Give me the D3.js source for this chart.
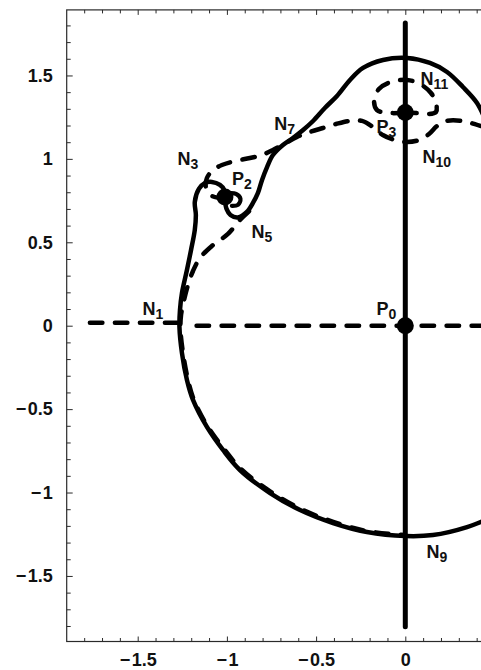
<!DOCTYPE html>
<html>
<head>
<meta charset="utf-8">
<script src="https://cdn.jsdelivr.net/npm/d3@7"></script>
<style>
  html, body { margin: 0; padding: 0; background: #fff; }
  svg { display: block; }
  text { font-family: "Liberation Sans", Arial, Helvetica, sans-serif; font-weight: bold; fill: #111; }
</style>
</head>
<body>
<svg id="chart" width="481" height="670"></svg>
<script>
// ---------------- data ----------------
const xDomain = [-1.898, 1.898];
const yDomain = [-1.893, 1.893];
const majorTicksY = [-1.5, -1, -0.5, 0, 0.5, 1, 1.5];
const majorTicksX = [-1.5, -1, -0.5, 0, 0.5, 1, 1.5];
const labelledTicksX = [-1.5, -1, -0.5, 0];

// solid closed-ish orbit (x, y)
const solidCurve = [
  [0.458,1.210],[0.402,1.335],[0.323,1.431],[0.234,1.521],[0.138,1.575],[0.010,1.605],
  [-0.125,1.593],[-0.237,1.545],[-0.310,1.473],[-0.383,1.377],[-0.451,1.305],[-0.517,1.227],
  [-0.573,1.173],[-0.630,1.125],[-0.686,1.083],[-0.742,1.023],[-0.775,0.951],[-0.803,0.874],
  [-0.826,0.796],[-0.854,0.736],[-0.888,0.682],[-0.938,0.649],[-0.980,0.664],[-1.002,0.700],
  [-1.011,0.754],[-1.011,0.808],[-1.039,0.844],[-1.084,0.862],[-1.123,0.856],[-1.157,0.820],
  [-1.180,0.742],[-1.174,0.664],[-1.180,0.574],[-1.201,0.454],[-1.224,0.334],[-1.252,0.196],
  [-1.263,0.094],[-1.266,-0.008],[-1.252,-0.164],[-1.224,-0.325],[-1.190,-0.445],[-1.112,-0.607],
  [-1.022,-0.745],[-0.927,-0.865],[-0.758,-1.003],[-0.590,-1.105],[-0.405,-1.183],[-0.215,-1.237],
  [0.000,-1.261],[0.155,-1.255],[0.346,-1.207],[0.475,-1.153]
];
// small solid curl right of P2
const solidCurl = [[-0.988,0.794],[-0.949,0.790],[-0.924,0.760],[-0.938,0.724],[-0.972,0.718]];
// vertical solid line x = 0
const verticalLine = [[0,-1.805],[0,1.815]];

// dashed curves
const dashAxisLeft = [[-1.768,0.018],[-1.275,0.018]];
const dashAxisRight = [[-1.170,0],[0.500,0]];
const dashN5Branch = [
  [-0.876,0.686],[-0.927,0.634],[-0.994,0.550],[-1.084,0.478],[-1.151,0.406],[-1.190,0.328],
  [-1.218,0.244],[-1.240,0.154],[-1.257,0.064],[-1.260,-0.026],[-1.246,-0.164],[-1.218,-0.325],
  [-1.185,-0.445],[-1.106,-0.607],[-1.016,-0.739],[-0.921,-0.859],[-0.752,-0.997],[-0.585,-1.099],
  [-0.400,-1.177],[-0.215,-1.231],[0.000,-1.255]
];
const dashUpper = [
  [-1.011,0.764],[-1.084,0.778],[-1.117,0.826],[-1.112,0.885],[-1.078,0.933],[-1.028,0.963],
  [-0.955,0.987],[-0.871,1.005],[-0.804,1.023],[-0.742,1.053],[-0.680,1.089],[-0.607,1.131],
  [-0.535,1.161],[-0.462,1.185],[-0.388,1.209],[-0.310,1.228],[-0.243,1.228],[-0.181,1.191],
  [-0.126,1.143],[-0.058,1.113],[0.010,1.101],[0.077,1.113],[0.133,1.149],[0.178,1.197],
  [0.228,1.227],[0.323,1.227],[0.424,1.197],[0.502,1.179]
];
const dashLoopP3 = [
  [0,1.278],[-0.086,1.275],[-0.159,1.293],[-0.175,1.353],[-0.148,1.419],[-0.080,1.461],
  [0.010,1.473],[0.082,1.449],[0.144,1.395],[0.172,1.335],[0.172,1.281],[0.127,1.269],
  [0.060,1.275],[0,1.278]
];

// critical points
const pointX = [0, -1.011, 0];
const pointY = [0, 0.771, 1.278];

// labels: main letter, subscript, anchor (x, y) of baseline start
const labelMain = ["N","P","N","N","N","P","N","N","P","N"];
const labelSub  = ["11","3","10","7","3","2","5","1","0","9"];
const labelX = [0.085,-0.162,0.096,-0.734,-1.277,-0.971,-0.862,-1.473,-0.162,0.119];
const labelY = [1.443,1.155,0.975,1.173,0.964,0.844,0.526,0.064,0.064,-1.393];

// ---------------- drawing ----------------
const svg = d3.select("#chart");
const x = d3.scaleLinear().domain(xDomain).range([66.7, 743.9]);
const y = d3.scaleLinear().domain(yDomain).range([641.5, 9.9]);

const fmt = d => d === 0 ? "0" : (d < 0 ? "\u2212\u200A" : "") + Math.abs(d);
const minorTicks = d3.range(-18, 19).map(i => i / 10).filter(v => Math.abs(v * 2 - Math.round(v * 2)) > 1e-6);

// frame
const frame = svg.append("g");
frame.append("rect")
  .attr("x", x(xDomain[0])).attr("y", y(yDomain[1]))
  .attr("width", x(xDomain[1]) - x(xDomain[0])).attr("height", y(yDomain[0]) - y(yDomain[1]))
  .attr("fill", "none").attr("stroke", "#2a2a2a").attr("stroke-width", 1.2);

function styleAxis(g) {
  g.select(".domain").remove();
  g.selectAll(".tick line").attr("stroke", "#2a2a2a").attr("stroke-width", 1);
  g.selectAll("text").style("font-size", "18px").style("font-family", '"Liberation Sans", Arial, sans-serif')
    .style("font-weight", "bold").attr("fill", "#111");
}

// left axis
svg.append("g").attr("transform", `translate(${x(xDomain[0])},0)`)
  .call(d3.axisLeft(y).tickValues(majorTicksY).tickSize(-6).tickPadding(14).tickFormat(fmt))
  .call(styleAxis);
svg.append("g").attr("transform", `translate(${x(xDomain[0])},0)`)
  .call(d3.axisLeft(y).tickValues(minorTicks).tickSize(-4).tickFormat(""))
  .call(styleAxis);
// bottom axis
svg.append("g").attr("transform", `translate(0,${y(yDomain[0])})`)
  .call(d3.axisBottom(x).tickValues(majorTicksX).tickSize(-5).tickFormat(""))
  .call(styleAxis);
svg.append("g").attr("transform", `translate(0,${y(yDomain[0])})`)
  .call(d3.axisBottom(x).tickValues(labelledTicksX).tickSize(0).tickPadding(12).tickFormat(fmt))
  .call(styleAxis);
svg.append("g").attr("transform", `translate(0,${y(yDomain[0])})`)
  .call(d3.axisBottom(x).tickValues(minorTicks).tickSize(-3.5).tickFormat(""))
  .call(styleAxis);
// top axis (ticks only)
svg.append("g").attr("transform", `translate(0,${y(yDomain[1])})`)
  .call(d3.axisTop(x).tickValues(majorTicksX).tickSize(-5).tickFormat(""))
  .call(styleAxis);
svg.append("g").attr("transform", `translate(0,${y(yDomain[1])})`)
  .call(d3.axisTop(x).tickValues(minorTicks).tickSize(-3.5).tickFormat(""))
  .call(styleAxis);

// curves
const line = d3.line().x(d => x(d[0])).y(d => y(d[1])).curve(d3.curveCatmullRom.alpha(0.5));
const plot = svg.append("g");

function drawSolid(data, w) {
  plot.append("path").datum(data).attr("d", line)
    .attr("fill", "none").attr("stroke", "#000").attr("stroke-width", w)
    .attr("stroke-linecap", "round").attr("stroke-linejoin", "round");
}
function drawDashed(data) {
  plot.append("path").datum(data).attr("d", line)
    .attr("fill", "none").attr("stroke", "#000").attr("stroke-width", 4.5)
    .attr("stroke-dasharray", "12.5,12.5")
    .attr("stroke-linecap", "round").attr("stroke-linejoin", "round");
}

[dashAxisLeft, dashAxisRight, dashN5Branch, dashUpper, dashLoopP3].forEach(drawDashed);
drawSolid(solidCurve, 4.5);
drawSolid(solidCurl, 4.2);
drawSolid(verticalLine, 5);

// critical points
plot.selectAll("circle.pt").data(pointX.map((v, i) => [v, pointY[i]])).join("circle")
  .attr("class", "pt").attr("cx", d => x(d[0])).attr("cy", d => y(d[1])).attr("r", 8.5).attr("fill", "#000");

// labels
const lab = svg.append("g");
labelMain.forEach((m, i) => {
  const t = lab.append("text").attr("x", x(labelX[i])).attr("y", y(labelY[i]))
    .style("font-size", "18px");
  t.append("tspan").text(m);
  t.append("tspan").attr("dy", 4).style("font-size", "14px").text(labelSub[i]);
});
</script>
</body>
</html>
